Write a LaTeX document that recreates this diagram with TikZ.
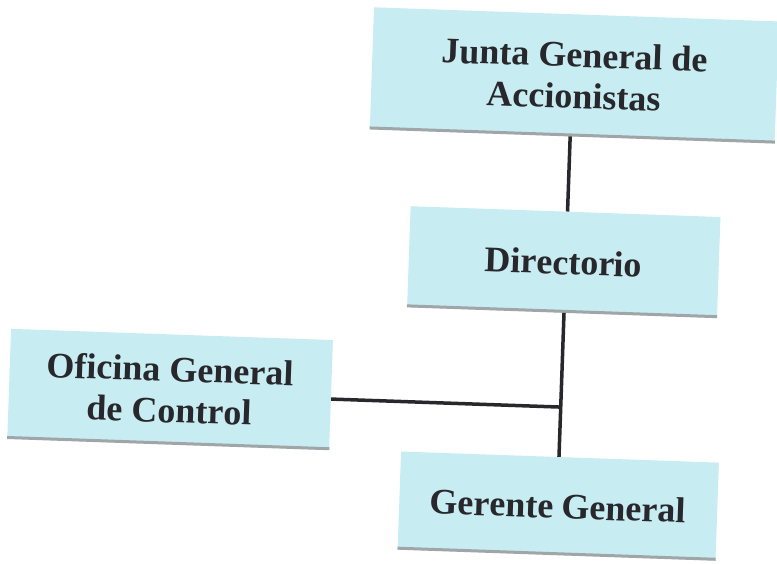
\documentclass[tikz,border=0pt]{standalone}
\usepackage{fontspec}
\setmainfont{Liberation Serif}
\definecolor{boxfill}{RGB}{199,236,242}
\definecolor{ink}{RGB}{40,40,44}
\definecolor{edgeshade}{RGB}{160,166,168}
\begin{document}
\begin{tikzpicture}[x=1pt,y=1pt,
  orgbox/.style={fill=boxfill, inner sep=0pt, align=center, text=ink,
    font=\fontsize{36}{41}\selectfont\bfseries},
  edgeline/.style={draw=edgeshade, line width=3pt},
  link/.style={draw=ink, line width=3.5pt}]
  \fill[white] (0,0) rectangle (777,563);
  \useasboundingbox (0,0) rectangle (777,563);
  \begin{scope}[rotate around={-2:(388.5,281.5)}, transform shape]
    % organisation boxes
    \node[orgbox, minimum width=405, minimum height=122] (junta) at (567,494)
      {Junta General de\\Accionistas};
    \node[orgbox, minimum width=310, minimum height=101] (dir) at (563,307)
      {Directorio};
    \node[orgbox, minimum width=322, minimum height=110] (ofi) at (174,166)
      {Oficina General\\de Control};
    \node[orgbox, minimum width=318, minimum height=98] (ger) at (566,63)
      {Gerente General};
    % shaded lower edges
    \foreach \n in {junta,dir,ofi,ger}
      \draw[edgeline] ([yshift=1.5pt]\n.south west) -- ([yshift=1.5pt]\n.south east);
    % joint where the control office meets the main line
    \coordinate (joint) at (565,162);
    % connectors
    \draw[link] (junta.south -| joint) -- (dir.north -| joint);
    \draw[link] (dir.south -| joint) -- (ger.north -| joint);
    \draw[link] (ofi.east |- joint) -- (joint);
  \end{scope}
\end{tikzpicture}
\end{document}
